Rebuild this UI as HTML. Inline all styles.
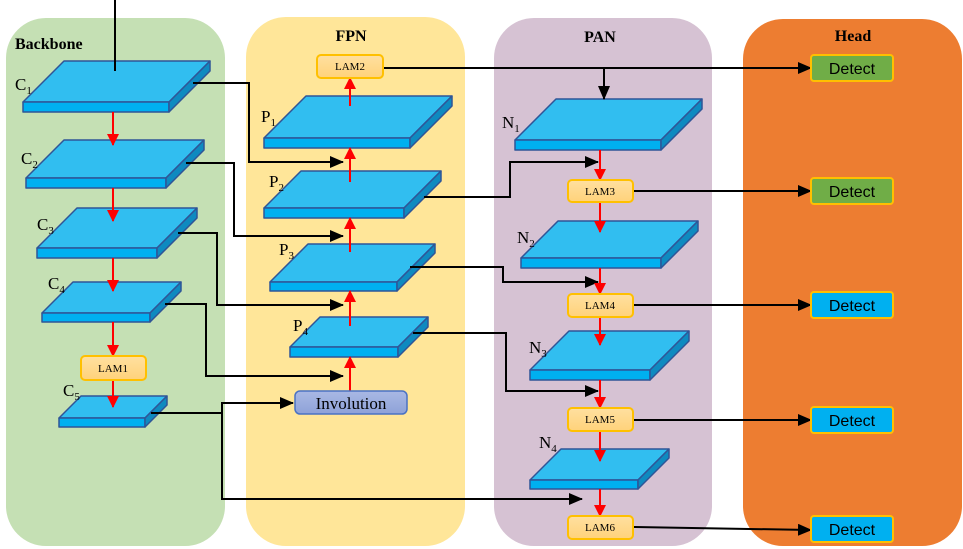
<!DOCTYPE html>
<html><head><meta charset="utf-8"><style>html,body{margin:0;padding:0;background:#fff}svg{display:block}</style></head>
<body>
<svg width="963" height="549" viewBox="0 0 963 549" xmlns="http://www.w3.org/2000/svg" font-family="'Liberation Serif', serif">
<defs>
<marker id="ar" markerWidth="12" markerHeight="12" refX="11" refY="6" orient="auto" markerUnits="userSpaceOnUse"><path d="M0,0 L12,6 L0,12 z" fill="#f00"/></marker>
<marker id="abig" markerWidth="14" markerHeight="12" refX="13" refY="6" orient="auto" markerUnits="userSpaceOnUse"><path d="M0,0 L14,6 L0,12 z" fill="#000"/></marker>
<linearGradient id="lam" x1="0" y1="0" x2="0" y2="1"><stop offset="0" stop-color="#ffe0a0"/><stop offset="1" stop-color="#ffd27a"/></linearGradient>
<linearGradient id="inv" x1="0" y1="0" x2="0" y2="1"><stop offset="0" stop-color="#a9b8e4"/><stop offset="1" stop-color="#8ea2d8"/></linearGradient>
</defs>
<rect x="6" y="18" width="219" height="528" rx="40" fill="#c5e0b4"/>
<rect x="246" y="17" width="219" height="529" rx="40" fill="#ffe699"/>
<rect x="494" y="18" width="218" height="528" rx="40" fill="#d6c2d3"/>
<rect x="743" y="19" width="219" height="527" rx="40" fill="#ed7d31"/>
<g font-weight="bold" font-size="16" fill="#000">
<text x="15" y="49">Backbone</text>
<text x="351" y="41" text-anchor="middle">FPN</text>
<text x="600" y="42" text-anchor="middle">PAN</text>
<text x="853" y="41" text-anchor="middle">Head</text>
</g>
<!-- plates -->
<g stroke="#2f5597" stroke-width="1.5" stroke-linejoin="round">
<g><polygon points="23,102 64,61 210,61 169,102" fill="#31bef0"/><rect x="23" y="102" width="146" height="10" fill="#00b0f0"/><polygon points="169,102 210,61 210,71 169,112" fill="#0e8ac0"/></g>
<g><polygon points="26,178 64,140 204,140 166,178" fill="#31bef0"/><rect x="26" y="178" width="140" height="10" fill="#00b0f0"/><polygon points="166,178 204,140 204,150 166,188" fill="#0e8ac0"/></g>
<g><polygon points="37,248 77,208 197,208 157,248" fill="#31bef0"/><rect x="37" y="248" width="120" height="10" fill="#00b0f0"/><polygon points="157,248 197,208 197,218 157,258" fill="#0e8ac0"/></g>
<g><polygon points="42,313 73,282 181,282 150,313" fill="#31bef0"/><rect x="42" y="313" width="108" height="9" fill="#00b0f0"/><polygon points="150,313 181,282 181,291 150,322" fill="#0e8ac0"/></g>
<g><polygon points="59,418 81,396 167,396 145,418" fill="#31bef0"/><rect x="59" y="418" width="86" height="9" fill="#00b0f0"/><polygon points="145,418 167,396 167,405 145,427" fill="#0e8ac0"/></g>
<g><polygon points="264,138 306,96 452,96 410,138" fill="#31bef0"/><rect x="264" y="138" width="146" height="10" fill="#00b0f0"/><polygon points="410,138 452,96 452,106 410,148" fill="#0e8ac0"/></g>
<g><polygon points="264,208 301,171 441,171 404,208" fill="#31bef0"/><rect x="264" y="208" width="140" height="10" fill="#00b0f0"/><polygon points="404,208 441,171 441,181 404,218" fill="#0e8ac0"/></g>
<g><polygon points="270,282 308,244 435,244 397,282" fill="#31bef0"/><rect x="270" y="282" width="127" height="9" fill="#00b0f0"/><polygon points="397,282 435,244 435,253 397,291" fill="#0e8ac0"/></g>
<g><polygon points="290,347 320,317 428,317 398,347" fill="#31bef0"/><rect x="290" y="347" width="108" height="10" fill="#00b0f0"/><polygon points="398,347 428,317 428,327 398,357" fill="#0e8ac0"/></g>
<g><polygon points="515,140 556,99 702,99 661,140" fill="#31bef0"/><rect x="515" y="140" width="146" height="10" fill="#00b0f0"/><polygon points="661,140 702,99 702,109 661,150" fill="#0e8ac0"/></g>
<g><polygon points="521,258 558,221 698,221 661,258" fill="#31bef0"/><rect x="521" y="258" width="140" height="10" fill="#00b0f0"/><polygon points="661,258 698,221 698,231 661,268" fill="#0e8ac0"/></g>
<g><polygon points="530,370 569,331 689,331 650,370" fill="#31bef0"/><rect x="530" y="370" width="120" height="10" fill="#00b0f0"/><polygon points="650,370 689,331 689,341 650,380" fill="#0e8ac0"/></g>
<g><polygon points="530,480 561,449 669,449 638,480" fill="#31bef0"/><rect x="530" y="480" width="108" height="9" fill="#00b0f0"/><polygon points="638,480 669,449 669,458 638,489" fill="#0e8ac0"/></g>
</g>
<!-- connectors black -->
<g stroke="#000" stroke-width="2" fill="none">
<line x1="115" y1="0" x2="115" y2="71"/>
<polyline points="193,83 249,83 249,162 343,162" marker-end="url(#abig)"/>
<polyline points="186,163 234,163 234,236 343,236" marker-end="url(#abig)"/>
<polyline points="178,233 217,233 217,305 343,305" marker-end="url(#abig)"/>
<polyline points="165,304 206,304 206,376 343,376" marker-end="url(#abig)"/>
<polyline points="151,413 222,413 222,403 293,403" marker-end="url(#abig)"/>
<polyline points="222,413 222,499 582,499" marker-end="url(#abig)"/>
<polyline points="383,68 811,68" marker-end="url(#abig)"/>
<polyline points="604,68 604,99" marker-end="url(#abig)"/>
<polyline points="424,197 510,197 510,162 598,162" marker-end="url(#abig)"/>
<polyline points="410,267 503,267 503,282 598,282" marker-end="url(#abig)"/>
<polyline points="413,333 506,333 506,391 598,391" marker-end="url(#abig)"/>
<polyline points="633,191 811,191" marker-end="url(#abig)"/>
<polyline points="633,305 811,305" marker-end="url(#abig)"/>
<polyline points="633,420 811,420" marker-end="url(#abig)"/>
<polyline points="633,527 811,530" marker-end="url(#abig)"/>
</g>
<!-- red arrows -->
<g stroke="#f00" stroke-width="2" fill="none">
<line x1="113" y1="112" x2="113" y2="145" marker-end="url(#ar)"/>
<line x1="113" y1="188" x2="113" y2="221" marker-end="url(#ar)"/>
<line x1="113" y1="258" x2="113" y2="291" marker-end="url(#ar)"/>
<line x1="113" y1="322" x2="113" y2="356" marker-end="url(#ar)"/>
<line x1="113" y1="380" x2="113" y2="407" marker-end="url(#ar)"/>
<line x1="350" y1="106" x2="350" y2="78" marker-end="url(#ar)"/>
<line x1="350" y1="182" x2="350" y2="148" marker-end="url(#ar)"/>
<line x1="350" y1="252" x2="350" y2="218" marker-end="url(#ar)"/>
<line x1="350" y1="326" x2="350" y2="291" marker-end="url(#ar)"/>
<line x1="350" y1="391" x2="350" y2="357" marker-end="url(#ar)"/>
<line x1="600" y1="150" x2="600" y2="180" marker-end="url(#ar)"/>
<line x1="600" y1="202" x2="600" y2="232" marker-end="url(#ar)"/>
<line x1="600" y1="268" x2="600" y2="294" marker-end="url(#ar)"/>
<line x1="600" y1="317" x2="600" y2="345" marker-end="url(#ar)"/>
<line x1="600" y1="380" x2="600" y2="408" marker-end="url(#ar)"/>
<line x1="600" y1="431" x2="600" y2="461" marker-end="url(#ar)"/>
<line x1="600" y1="489" x2="600" y2="516" marker-end="url(#ar)"/>
</g>
<!-- LAM boxes -->
<g stroke="#ffc000" stroke-width="2" fill="url(#lam)">
<rect x="81" y="356" width="65" height="24" rx="4"/>
<rect x="317" y="55" width="66" height="23" rx="4"/>
<rect x="568" y="180" width="65" height="22" rx="4"/>
<rect x="568" y="294" width="65" height="23" rx="4"/>
<rect x="568" y="408" width="65" height="23" rx="4"/>
<rect x="568" y="516" width="65" height="23" rx="4"/>
</g>
<g font-size="11" text-anchor="middle" fill="#000">
<text x="113" y="372">LAM1</text>
<text x="350" y="70">LAM2</text>
<text x="600" y="195">LAM3</text>
<text x="600" y="309">LAM4</text>
<text x="600" y="423">LAM5</text>
<text x="600" y="531">LAM6</text>
</g>
<rect x="295" y="391" width="112" height="23" rx="5" fill="url(#inv)" stroke="#4a72c4" stroke-width="1.5"/>
<text x="351" y="409" font-size="17" text-anchor="middle">Involution</text>
<!-- Detect -->
<g stroke="#ffc000" stroke-width="2">
<rect x="811" y="55" width="82" height="26" rx="3" fill="#70ad47"/>
<rect x="811" y="178" width="82" height="26" rx="3" fill="#70ad47"/>
<rect x="811" y="292" width="82" height="26" rx="3" fill="#00b0f0"/>
<rect x="811" y="407" width="82" height="26" rx="3" fill="#00b0f0"/>
<rect x="811" y="516" width="82" height="26" rx="3" fill="#00b0f0"/>
</g>
<g font-family="'Liberation Sans', sans-serif" font-size="16" text-anchor="middle" fill="#000">
<text x="852" y="74">Detect</text>
<text x="852" y="197">Detect</text>
<text x="852" y="311">Detect</text>
<text x="852" y="426">Detect</text>
<text x="852" y="535">Detect</text>
</g>
<!-- labels -->
<g font-size="17" fill="#000">
<text x="15" y="90">C<tspan font-size="11" dy="4">1</tspan></text>
<text x="21" y="164">C<tspan font-size="11" dy="4">2</tspan></text>
<text x="37" y="230">C<tspan font-size="11" dy="4">3</tspan></text>
<text x="48" y="289">C<tspan font-size="11" dy="4">4</tspan></text>
<text x="63" y="396">C<tspan font-size="11" dy="4">5</tspan></text>
<text x="261" y="122">P<tspan font-size="11" dy="4">1</tspan></text>
<text x="269" y="187">P<tspan font-size="11" dy="4">2</tspan></text>
<text x="279" y="255">P<tspan font-size="11" dy="4">3</tspan></text>
<text x="293" y="331">P<tspan font-size="11" dy="4">4</tspan></text>
<text x="502" y="128">N<tspan font-size="11" dy="4">1</tspan></text>
<text x="517" y="243">N<tspan font-size="11" dy="4">2</tspan></text>
<text x="529" y="353">N<tspan font-size="11" dy="4">3</tspan></text>
<text x="539" y="448">N<tspan font-size="11" dy="4">4</tspan></text>
</g>
</svg>
</body></html>
